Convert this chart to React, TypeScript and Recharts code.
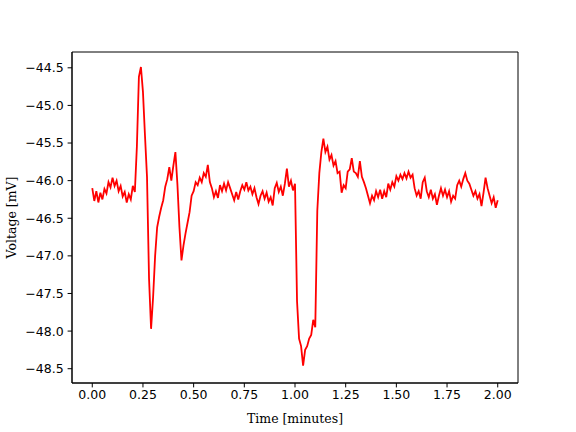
import { LineChart, Line, XAxis, YAxis, ReferenceArea } from 'recharts';

// sample times in minutes
const time = [
  0.0, 0.01, 0.02, 0.03, 0.04, 0.05, 0.06, 0.07, 0.08, 0.09,
  0.1, 0.11, 0.12, 0.13, 0.14, 0.15, 0.16, 0.17, 0.18, 0.19,
  0.2, 0.21, 0.22, 0.23, 0.24, 0.25, 0.26, 0.27, 0.28, 0.29,
  0.3, 0.31, 0.32, 0.33, 0.34, 0.35, 0.36, 0.37, 0.38, 0.39,
  0.4, 0.41, 0.42, 0.43, 0.44, 0.45, 0.46, 0.47, 0.48, 0.49,
  0.5, 0.51, 0.52, 0.53, 0.54, 0.55, 0.56, 0.57, 0.58, 0.59,
  0.6, 0.61, 0.62, 0.63, 0.64, 0.65, 0.66, 0.67, 0.68, 0.69,
  0.7, 0.71, 0.72, 0.73, 0.74, 0.75, 0.76, 0.77, 0.78, 0.79,
  0.8, 0.81, 0.82, 0.83, 0.84, 0.85, 0.86, 0.87, 0.88, 0.89,
  0.9, 0.91, 0.92, 0.93, 0.94, 0.95, 0.96, 0.97, 0.98, 0.99,
  1.0, 1.01, 1.02, 1.03, 1.04, 1.05, 1.06, 1.07, 1.08, 1.09,
  1.1, 1.11, 1.12, 1.13, 1.14, 1.15, 1.16, 1.17, 1.18, 1.19,
  1.2, 1.21, 1.22, 1.23, 1.24, 1.25, 1.26, 1.27, 1.28, 1.29,
  1.3, 1.31, 1.32, 1.33, 1.34, 1.35, 1.36, 1.37, 1.38, 1.39,
  1.4, 1.41, 1.42, 1.43, 1.44, 1.45, 1.46, 1.47, 1.48, 1.49,
  1.5, 1.51, 1.52, 1.53, 1.54, 1.55, 1.56, 1.57, 1.58, 1.59,
  1.6, 1.61, 1.62, 1.63, 1.64, 1.65, 1.66, 1.67, 1.68, 1.69,
  1.7, 1.71, 1.72, 1.73, 1.74, 1.75, 1.76, 1.77, 1.78, 1.79,
  1.8, 1.81, 1.82, 1.83, 1.84, 1.85, 1.86, 1.87, 1.88, 1.89,
  1.9, 1.91, 1.92, 1.93, 1.94, 1.95, 1.96, 1.97, 1.98, 1.99,
  2.0,
];

// membrane voltage in mV
const voltage = [
  -46.1, -46.27, -46.14, -46.29, -46.16, -46.25, -46.11, -46.17, -46.02, -46.09,
  -45.96, -46.07, -46.0, -46.14, -46.07, -46.21, -46.15, -46.29, -46.18, -46.25,
  -46.07, -46.15, -45.55, -44.62, -44.49, -44.82, -45.4, -45.95, -47.3, -47.97,
  -47.55, -47.0, -46.62, -46.48, -46.36, -46.26, -46.08, -45.98, -45.82, -46.0,
  -45.8, -45.62, -46.05, -46.62, -47.06, -46.86, -46.7, -46.56, -46.42, -46.2,
  -46.14, -46.02, -46.06, -45.96, -46.02, -45.9, -45.95, -45.79, -46.02, -46.1,
  -46.22, -46.14, -46.23, -46.06, -46.14, -46.04, -46.13, -46.02, -46.1, -46.18,
  -46.26, -46.15, -46.25, -46.14, -46.06, -46.12, -46.02, -46.13, -46.08, -46.18,
  -46.1, -46.22, -46.31, -46.2, -46.14, -46.24, -46.16, -46.28, -46.22, -46.33,
  -46.1, -46.03, -46.15, -46.08, -46.2, -46.04, -45.84, -46.08, -46.0, -46.13,
  -46.04, -47.6, -48.1, -48.2, -48.46, -48.25, -48.2, -48.1, -48.05, -47.85,
  -47.95, -46.4, -45.9, -45.62, -45.44, -45.62, -45.55, -45.72, -45.66, -45.8,
  -45.74, -45.9, -45.88, -46.16, -46.06, -46.1, -45.88, -45.85, -45.7, -45.88,
  -45.9, -45.95, -45.74, -45.95, -46.02, -46.1, -46.2, -46.3, -46.2, -46.26,
  -46.14, -46.22, -46.12, -46.24, -46.14, -46.22, -46.04, -46.12, -46.02, -46.08,
  -45.94, -46.0, -45.92, -45.98, -45.9, -45.97, -45.88, -45.96, -45.92, -46.1,
  -46.2, -46.14, -46.24, -46.02, -45.96, -46.14, -46.22, -46.12, -46.24, -46.18,
  -46.32, -46.2, -46.1, -46.2, -46.12, -46.22, -46.14, -46.28, -46.2, -46.24,
  -46.06, -46.0, -46.08, -45.98, -45.9, -46.0, -46.04, -46.12, -46.2, -46.14,
  -46.24, -46.18, -46.34, -46.16, -45.96, -46.1, -46.2, -46.3, -46.22, -46.36,
  -46.26,
];

const xTicks = [0, 0.25, 0.5, 0.75, 1.0, 1.25, 1.5, 1.75, 2.0];
const yTicks = [-48.5, -48.0, -47.5, -47.0, -46.5, -46.0, -45.5, -45.0, -44.5];
const xDomain = [-0.1, 2.1];
const yDomain = [-48.69, -44.29];

const data = time.map((t, i) => ({ t, v: voltage[i] }));

const tickFont = { fontFamily: 'DejaVu Sans', fontSize: 12.5, fill: '#000' };
const labelFont = { fontFamily: 'DejaVu Serif', fontSize: 12.5, fill: '#000' };
const minus = (s: string) => s.replace('-', '\u2212');

export default function App() {
  return (
    <div style={{ position: 'absolute', left: 0, top: 0, background: '#fff' }}>
      <LineChart width={576} height={432} data={data} margin={{ top: 52, right: 58, bottom: 9, left: 12 }}>
        <XAxis
          dataKey="t"
          type="number"
          domain={xDomain}
          ticks={xTicks}
          tickFormatter={(v: number) => v.toFixed(2)}
          tick={tickFont}
          tickSize={4.4}
          tickMargin={3}
          height={40}
          stroke="#000"
          interval={0}
          allowDataOverflow
          label={{
            content: (p: any) => {
              const vb = p.viewBox;
              return (
                <text x={vb.x + vb.width / 2} y={vb.y + 40} textAnchor="middle" style={labelFont}>
                  Time [minutes]
                </text>
              );
            },
          }}
        />
        <YAxis
          type="number"
          domain={yDomain}
          ticks={yTicks}
          tickFormatter={(v: number) => minus(v.toFixed(1))}
          tick={tickFont}
          tickSize={4.4}
          tickMargin={4}
          width={60}
          stroke="#000"
          interval={0}
          allowDataOverflow
          label={{
            content: (p: any) => {
              const vb = p.viewBox;
              const cx = vb.x - 1;
              const cy = vb.y + vb.height / 2;
              return (
                <text
                  x={cx}
                  y={cy}
                  transform={`rotate(-90 ${cx} ${cy})`}
                  textAnchor="middle"
                  dominantBaseline="central"
                  style={labelFont}
                >
                  Voltage [mV]
                </text>
              );
            },
          }}
        />
        {/* axes frame (matplotlib spines) */}
        <ReferenceArea
          x1={xDomain[0]}
          x2={xDomain[1]}
          y1={yDomain[0]}
          y2={yDomain[1]}
          fill="none"
          fillOpacity={0}
          stroke="#000"
          strokeWidth={1}
          ifOverflow="visible"
        />
        <Line
          type="linear"
          dataKey="v"
          stroke="#ff0000"
          strokeWidth={1.8}
          dot={false}
          activeDot={false}
          isAnimationActive={false}
        />
      </LineChart>
    </div>
  );
}
